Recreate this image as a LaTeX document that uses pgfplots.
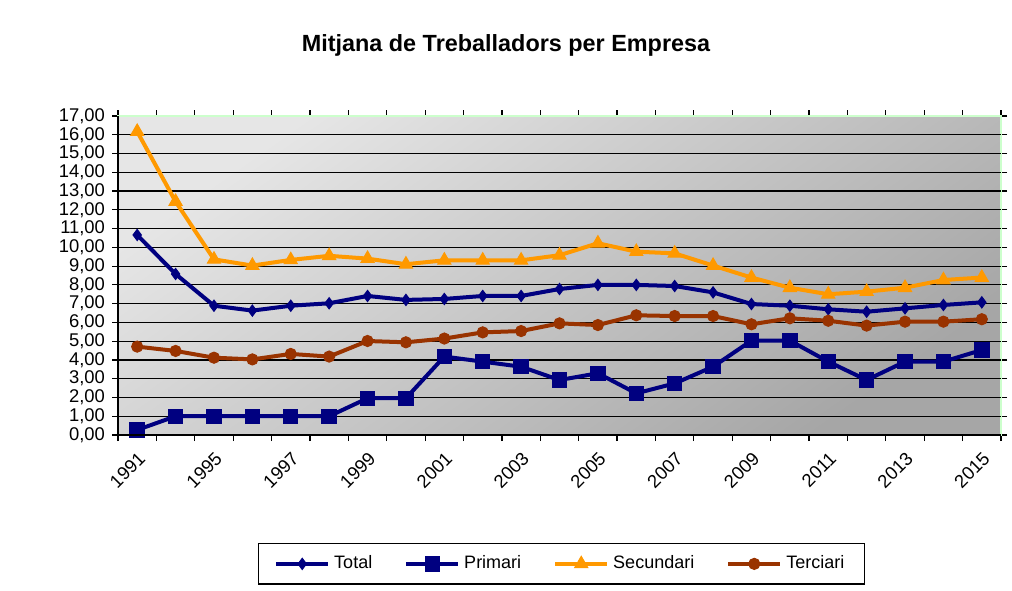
\documentclass[border=0pt]{standalone}
\usepackage{pgfplots}
\pgfplotsset{compat=1.18}
\usepackage{pgfplotstable}
\usepackage{fontspec}
\setmainfont{Liberation Sans}
\definecolor{cNavy}{HTML}{000080}
\definecolor{cOrange}{HTML}{FF9900}
\definecolor{cBrown}{HTML}{993300}
\definecolor{cGreen}{HTML}{CCFFCC}
\definecolor{bgA}{HTML}{E6E6E6}
\definecolor{bgB}{HTML}{A6A6A6}
\pgfplotstableread{
i Total Primari Secundari Terciari
0 10.66 0.27 16.17 4.71
1 8.58 1.00 12.44 4.48
2 6.89 1.00 9.36 4.12
3 6.63 1.00 9.03 4.03
4 6.89 1.00 9.33 4.32
5 7.02 1.00 9.55 4.18
6 7.41 1.96 9.40 5.01
7 7.20 1.96 9.10 4.94
8 7.25 4.18 9.31 5.14
9 7.41 3.91 9.31 5.47
10 7.41 3.64 9.31 5.54
11 7.78 2.93 9.58 5.95
12 8.00 3.29 10.22 5.86
13 8.00 2.22 9.77 6.38
14 7.94 2.75 9.68 6.34
15 7.60 3.64 9.03 6.34
16 6.98 5.03 8.39 5.90
17 6.89 5.03 7.85 6.22
18 6.70 3.91 7.50 6.09
19 6.57 2.93 7.64 5.83
20 6.75 3.91 7.85 6.04
21 6.93 3.91 8.26 6.04
22 7.07 4.53 8.39 6.17
}\datatable
\begin{document}
\begin{tikzpicture}
\useasboundingbox (0,0) rectangle (506pt,-295pt);
\node[font=\fontsize{11.7}{13}\selectfont\bfseries] at (253pt,-22.5pt) {Mitjana de Treballadors per Empresa};
\begin{axis}[
  at={(59pt,-58pt)}, anchor=north west,
  width=441.5pt, height=159.5pt, scale only axis,
  xmin=-0.5, xmax=22.5, ymin=0, ymax=17,
  axis background/.style={top color=bgA, bottom color=bgB, shading angle=35},
  axis line style={draw=cGreen, line width=1pt},
  tick align=outside, major tick length=3pt, minor tick length=3pt,
  tick style={black, line width=0.6pt},
  ytick={0,1,...,17},
  /pgf/number format/assume math mode=true,
  yticklabel style={font=\fontsize{9.2}{10}\selectfont, /pgf/number format/.cd, fixed, fixed zerofill, precision=2, use comma},
  extra y ticks={1,2,...,16},
  extra y tick labels={},
  extra y tick style={grid=major, major tick length=0pt},
  grid style={black, line width=0.6pt},
  xtick={0,2,4,6,8,10,12,14,16,18,20,22},
  xticklabels={1991,1995,1997,1999,2001,2003,2005,2007,2009,2011,2013,2015},
  major x tick style={draw=none},
  minor xtick={-0.5,0.5,1.5,2.5,3.5,4.5,5.5,6.5,7.5,8.5,9.5,10.5,11.5,12.5,13.5,14.5,15.5,16.5,17.5,18.5,19.5,20.5,21.5,22.5},
  xticklabel style={rotate=45, anchor=north east, font=\fontsize{9.2}{10}\selectfont},
  legend style={at={(0.502,-0.404)}, anchor=center, draw=black, line width=0.6pt,
    font=\fontsize{9}{10}\selectfont, inner xsep=8pt, inner ysep=4pt,
    /tikz/every even column/.append style={column sep=14pt}},
  legend columns=4,
  legend cell align=left,
  legend image code/.code={\draw[mark repeat=2,mark phase=2,#1] plot coordinates {(0pt,0pt) (13pt,0pt) (26pt,0pt)};},
  every axis plot/.append style={line width=2pt},
  after end axis/.code={\draw[black, line width=0.8pt] (rel axis cs:0,1) -- (rel axis cs:0,0) -- (rel axis cs:1,0);},
]
\addplot[cNavy, mark=diamond*, mark size=2.8pt, mark options={solid, line width=0.5pt}] table[x=i, y=Total] {\datatable};
\addlegendentry{Total}
\addplot[cNavy, mark=square*, mark size=3.6pt, mark options={solid, line width=0.5pt}] table[x=i, y=Primari] {\datatable};
\addlegendentry{Primari}
\addplot[cOrange, mark=triangle*, mark size=3.8pt, mark options={solid, line width=0.5pt}] table[x=i, y=Secundari] {\datatable};
\addlegendentry{Secundari}
\addplot[cBrown, mark=*, mark size=2.8pt, mark options={solid, line width=0.5pt}] table[x=i, y=Terciari] {\datatable};
\addlegendentry{Terciari}
\end{axis}
\end{tikzpicture}
\end{document}
